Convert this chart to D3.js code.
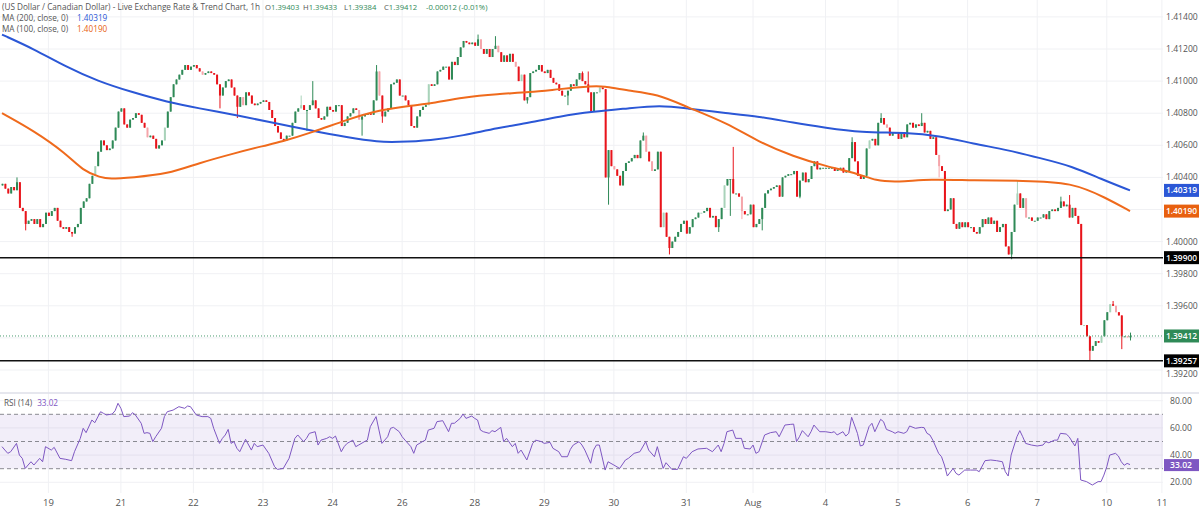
<!DOCTYPE html>
<html>
<head>
<meta charset="utf-8">
<script src="https://cdn.jsdelivr.net/npm/d3@7"></script>
<style>
  body { margin: 0; background: #fff; }
  svg text { font-family: "Open Sans", sans-serif; }
</style>
</head>
<body>
<div id="chart"></div>
<script>
// hourly closes, one per candle (open = previous close)
var firstOpen = 1.4035;
var closes = [
  1.4036,1.4033,1.4030,1.4034,1.4032,1.4037,1.4021,1.4019,1.4011,1.4013,
  1.4014,1.4011,1.4014,1.4009,1.4011,1.4018,1.4016,1.4019,1.4021,1.4013,
  1.4009,1.4008,1.4009,1.4006,1.4005,1.4009,1.4011,1.4021,1.4025,1.4027,
  1.4036,1.4041,1.4047,1.4056,1.4063,1.4060,1.4057,1.4058,1.4063,1.4071,
  1.4081,1.4083,1.4073,1.4071,1.4076,1.4077,1.4080,1.4079,1.4074,1.4071,
  1.4065,1.4066,1.4064,1.4058,1.4060,1.4063,1.4071,1.4081,1.4090,1.4098,
  1.4101,1.4104,1.4107,1.4110,1.4107,1.4109,1.4110,1.4108,1.4106,1.4104,
  1.4105,1.4106,1.4105,1.4104,1.4098,1.4091,1.4096,1.4100,1.4101,1.4096,
  1.4091,1.4084,1.4090,1.4085,1.4093,1.4091,1.4086,1.4085,1.4086,1.4087,
  1.4088,1.4087,1.4082,1.4077,1.4072,1.4068,1.4064,1.4063,1.4066,1.4066,
  1.4074,1.4081,1.4083,1.4085,1.4082,1.4082,1.4085,1.4088,1.4083,1.4077,
  1.4076,1.4078,1.4084,1.4082,1.4081,1.4085,1.4085,1.4072,1.4074,1.4078,
  1.4080,1.4083,1.4082,1.4076,1.4078,1.4079,1.4080,1.4079,1.4088,1.4106,
  1.4091,1.4078,1.4081,1.4083,1.4098,1.4099,1.4101,1.4091,1.4091,1.4088,
  1.4085,1.4072,1.4071,1.4078,1.4082,1.4084,1.4085,1.4098,1.4097,1.4098,
  1.4106,1.4107,1.4109,1.4109,1.4101,1.4112,1.4110,1.4115,1.4121,1.4125,
  1.4124,1.4123,1.4124,1.4122,1.4126,1.4120,1.4117,1.4120,1.4115,1.4120,
  1.4122,1.4118,1.4112,1.4116,1.4112,1.4117,1.4112,1.4109,1.4100,1.4104,
  1.4088,1.4090,1.4105,1.4106,1.4107,1.4110,1.4106,1.4105,1.4107,1.4102,
  1.4099,1.4098,1.4094,1.4091,1.4091,1.4094,1.4098,1.4097,1.4101,1.4105,
  1.4100,1.4098,1.4093,1.4081,1.4093,1.4093,1.4096,1.4095,1.4040,1.4057,
  1.4047,1.4045,1.4041,1.4035,1.4044,1.4049,1.4050,1.4052,1.4054,1.4052,
  1.4063,1.4066,1.4056,1.4050,1.4044,1.4045,1.4056,1.4009,1.4018,1.4003,
  1.3996,1.4000,1.4003,1.4006,1.4011,1.4013,1.4005,1.4009,1.4014,1.4015,
  1.4018,1.4018,1.4019,1.4021,1.4015,1.4016,1.4009,1.4014,1.4021,1.4035,
  1.4039,1.4039,1.4030,1.4030,1.4028,1.4019,1.4017,1.4017,1.4023,1.4009,
  1.4011,1.4014,1.4021,1.4030,1.4032,1.4033,1.4034,1.4035,1.4028,1.4040,
  1.4041,1.4042,1.4042,1.4044,1.4028,1.4038,1.4043,1.4037,1.4039,1.4047,
  1.4050,1.4045,1.4046,1.4046,1.4046,1.4046,1.4046,1.4044,1.4045,1.4046,
  1.4043,1.4044,1.4052,1.4062,1.4050,1.4041,1.4039,1.4041,1.4058,1.4063,
  1.4064,1.4060,1.4074,1.4077,1.4073,1.4071,1.4066,1.4068,1.4068,1.4064,
  1.4068,1.4065,1.4073,1.4074,1.4071,1.4073,1.4072,1.4074,1.4068,1.4069,
  1.4064,1.4065,1.4054,1.4047,1.4044,1.4019,1.4020,1.4027,1.4011,1.4008,
  1.4012,1.4009,1.4012,1.4009,1.4009,1.4006,1.4005,1.4009,1.4014,1.4011,
  1.4015,1.4011,1.4013,1.4006,1.4009,1.4011,1.3997,1.3992,1.4006,1.4023,
  1.4030,1.4021,1.4027,1.4015,1.4015,1.4013,1.4013,1.4015,1.4015,1.4017,
  1.4014,1.4019,1.4020,1.4019,1.4021,1.4025,1.4022,1.4023,1.4015,1.4021,
  1.4016,1.4011,1.3948,1.3948,1.3941,1.3932,1.3935,1.3938,1.3937,1.3941,
  1.3951,1.3956,1.3961,1.3960,1.3956,1.3954,1.3941,1.3941,1.39403,1.39412
];

// visible wicks [candle, price]
var highWicks = [[5,1.4040],[103,1.4091],[107,1.4100],[129,1.4110],[164,1.4129],[170,1.4128],
  [200,1.4106],[202,1.4106],[221,1.4068],[252,1.4059],[293,1.4065],[303,1.4080],[317,1.4080],
  [350,1.4038],[365,1.4028],[368,1.4029],[383,1.3963],[389,1.39433]];
var lowWicks = [[8,1.4007],[24,1.4003],[75,1.4083],[81,1.4077],[105,1.4069],[124,1.4066],
  [131,1.4074],[181,1.4086],[195,1.4085],[209,1.4023],[230,1.3992],[247,1.4006],[251,1.4016],
  [255,1.4014],[262,1.4007],[275,1.4027],[323,1.4040],[348,1.3989],[375,1.39257],[386,1.3933],
  [389,1.39384]];
// candles drawn in the lighter shade
var fadedCandles = [32,50,56,69,83,103,123,130,147,165,171,177,179,206,211,222,224,228,241,
  249,255,299,305,323,350,353,373,379,382,384,388];

// moving averages [candle, value]
var ma200 = [[0,1.4129],[11,1.4120],[22,1.4109],[33,1.4100],[45,1.4093],[57,1.4087],[68,1.4083],
  [80,1.4079],[91,1.4075],[107,1.4069],[119,1.4065],[130,1.4062],[136,1.4062],[148,1.4063],
  [159,1.4066],[171,1.4071],[182,1.4074],[192,1.4078],[204,1.4081],[216,1.4083],[227,1.4085],
  [236,1.4083],[250,1.4080],[261,1.4078],[273,1.4074],[284,1.4071],[296,1.4068],[312,1.4068],
  [323,1.4066],[335,1.4061],[347,1.4057],[358,1.4052],[369,1.4047],[379,1.4039],[389,1.40319]];
var ma100 = [[0,1.4080],[11,1.4069],[22,1.4055],[28,1.4044],[34,1.4040],[37,1.4039],[45,1.4040],
  [57,1.4042],[68,1.4049],[80,1.4055],[91,1.4060],[96,1.4062],[107,1.4068],[119,1.4076],
  [130,1.4082],[142,1.4085],[148,1.4086],[159,1.4090],[171,1.4092],[182,1.4093],[192,1.4095],
  [204,1.4097],[207,1.4097],[216,1.4094],[226,1.4092],[236,1.4084],[250,1.4074],[261,1.4062],
  [273,1.4053],[284,1.4047],[296,1.4042],[301,1.4038],[309,1.4037],[320,1.4039],[335,1.4038],
  [352,1.4038],[369,1.4037],[381,1.4027],[389,1.4019]];

// RSI(14) [candle, value]
var rsi = [[0,46.2],[1,43.7],[2,41.3],[3,42.5],[5,48.6],[6,40],[7,37.6],[8,30.2],[9,32.7],[10,35.1],
  [11,32.7],[13,37.6],[14,35.1],[15,46.2],[17,43.7],[18,45.7],[20,37.6],[22,36.9],[24,35.9],[25,42.5],
  [27,52.3],[28,59.7],[29,56.5],[31,65.8],[32,63.8],[34,71.9],[35,70.7],[36,69.5],[38,70.2],[39,72.6],
  [40,78.1],[41,74.4],[42,68.3],[44,68.7],[45,71.2],[46,69.5],[48,63.4],[49,56],[50,56.5],[51,56],
  [52,49.9],[53,53.5],[55,59.7],[56,68.3],[57,71.9],[59,73.1],[61,75.6],[63,74.4],[64,76.1],[65,75.6],
  [67,69.5],[69,68.3],[71,68.3],[72,67],[73,59.7],[75,48.6],[76,52.3],[77,54.8],[78,58.9],[79,48.6],
  [80,49.9],[81,45],[82,42.5],[84,51.6],[86,43.7],[87,48.6],[88,46.2],[90,47.4],[92,41.3],[94,31.5],
  [95,29.5],[97,30.2],[99,37.6],[101,52.3],[102,54.8],[104,49.9],[105,52.3],[106,56],[108,57.2],[109,47.4],
  [110,51],[112,52.3],[113,53.5],[114,52.3],[115,54],[117,42.5],[118,46.2],[119,48.6],[121,51],[122,46.2],
  [123,47.4],[125,49.9],[126,51],[127,60.9],[129,68.3],[130,58.4],[131,48.6],[133,53.5],[134,59.7],[135,60.4],
  [137,57.2],[138,53.5],[139,51],[141,46.2],[142,41.3],[143,47.4],[145,49.9],[146,51],[147,58.4],[149,59.7],
  [150,64.6],[152,65.3],[154,57.2],[155,63.4],[156,63.4],[158,67],[159,70.2],[160,67],[162,68.7],[163,67],
  [164,65.8],[165,58.4],[166,57.2],[168,56],[169,58],[170,57.2],[172,60.4],[173,49.9],[174,52.3],[176,46.2],
  [177,48.6],[178,41.3],[179,43.7],[181,36.4],[183,48.6],[184,51],[186,49.9],[187,48.6],[189,49.4],[190,45],
  [192,42.5],[193,38.8],[195,38.8],[196,44.2],[197,47.4],[199,49.9],[200,47.4],[201,43.7],[203,34],[204,43.7],
  [205,47.4],[206,47.4],[208,29],[209,35.1],[211,32.7],[213,30.2],[215,36.4],[216,37.6],[218,41.3],[220,42.5],
  [222,49.9],[223,43.7],[225,38.8],[226,46.2],[228,30.2],[229,34.4],[231,29.5],[233,29.5],[235,38.8],[236,37.6],
  [238,42.5],[240,44.5],[243,45],[245,42.5],[247,47.4],[248,42.5],[249,48.6],[250,57.2],[252,58.4],[253,52.3],
  [255,52.3],[256,45],[258,44.5],[259,47.4],[260,41.3],[261,42.5],[263,54.8],[265,56.5],[267,57.2],[268,53.5],
  [270,62.1],[272,62.6],[273,62.8],[274,49.9],[275,53.5],[276,58],[278,53.5],[279,57.2],[280,62.1],[282,57.2],
  [284,57.2],[286,56.5],[287,57.2],[288,54.8],[290,57.2],[291,54],[292,56],[293,67.8],[295,56],[296,46.7],
  [297,47.4],[299,60.9],[300,63.4],[301,57.2],[303,66.3],[304,64.6],[305,58.9],[307,57.2],[308,56],[309,57.2],
  [311,56],[312,57.2],[313,61.4],[315,59.7],[317,60.4],[318,60.2],[319,56],[320,54.8],[321,51],[323,41.3],
  [324,38.8],[325,32.7],[326,24.6],[328,30.2],[329,26.6],[330,25.3],[332,29],[334,29],[336,29],[337,27.8],
  [339,35.9],[341,36.4],[343,35.9],[345,35.1],[346,27.8],[347,24.6],[348,40],[350,53.5],[351,58],[352,53.5],
  [353,48.6],[355,47.4],[357,46.7],[359,47.4],[360,49.9],[361,49.1],[363,51],[364,51],[365,56],[367,55.5],
  [368,53.5],[370,46.7],[371,52.3],[372,21.7],[374,20.5],[376,18],[378,20.5],[379,20.5],[380,25.3],[381,31.5],
  [382,40],[384,41.3],[385,39.3],[386,35.1],[387,32.5],[388,33.9],[389,33.02]];

var dayLabels = ['19','21','22','23','24','26','28','29','30','31','Aug','4','5','6','7','10','11'];
var dayIndex = [16,41,66,90,114,138,163,187,211,236,259,284,309,333,357,381,400];
var priceTicks = [1.392,1.394,1.396,1.398,1.400,1.402,1.404,1.406,1.408,1.410,1.412,1.414];
var rsiTicks = [20,40,60,80];
var rsiLevels = [70,50,30];
var supportLevels = [1.3990, 1.39257];
var lastPrice = 1.39412;
var lastRsi = 33.02;
var ohlcKeys = ['O','H','L','C'];
var ohlc = ['1.39403','1.39433','1.39384','1.39412'];
var change = '-0.00012 (-0.01%)';

var width = 1199, height = 510, plotRight = 1163, axisX = 1166;
var green = '#2f8a57', red = '#e8141b';
var greenLight = '#a9d3ba', redLight = '#f5a5aa';

var svg = d3.select('#chart').append('svg')
    .attr('width', width).attr('height', height);

var x = d3.scaleLinear().domain([0, closes.length - 1]).range([2, 1130]);
var y = d3.scaleLinear().domain([1.392, 1.414]).range([370, 16.9]);
var yr = d3.scaleLinear().domain([20, 80]).range([482.3, 400.7]);

// grid
svg.append('g').selectAll('line').data(priceTicks).enter().append('line')
  .attr('x1', 0).attr('x2', plotRight)
  .attr('y1', function(d){ return y(d); }).attr('y2', function(d){ return y(d); })
  .attr('stroke', '#f0f1f4');
svg.append('g').selectAll('line').data(rsiTicks).enter().append('line')
  .attr('x1', 0).attr('x2', plotRight)
  .attr('y1', function(d){ return yr(d); }).attr('y2', function(d){ return yr(d); })
  .attr('stroke', '#f0f1f4');
svg.append('g').selectAll('line').data(dayIndex).enter().append('line')
  .attr('x1', function(d){ return x(d); }).attr('x2', function(d){ return x(d); })
  .attr('y1', 0).attr('y2', 493)
  .attr('stroke', '#f0f1f4');

// panel separator
svg.append('line').attr('x1', 0).attr('x2', width).attr('y1', 393).attr('y2', 393)
  .attr('stroke', '#dedfe8').attr('stroke-width', 1.5);

// RSI band and levels
svg.append('rect').attr('x', 0).attr('width', plotRight)
  .attr('y', yr(70)).attr('height', yr(30) - yr(70))
  .attr('fill', 'rgba(126,87,194,0.1)');
svg.append('g').selectAll('line').data(rsiLevels).enter().append('line')
  .attr('x1', 0).attr('x2', plotRight)
  .attr('y1', function(d){ return yr(d); }).attr('y2', function(d){ return yr(d); })
  .attr('stroke', '#8a8a92').attr('stroke-dasharray', '4,3');

// candles
var hiMap = new Map(highWicks), loMap = new Map(lowWicks);
var fadedSet = new Set(fadedCandles);
var candles = closes.map(function(c, i){
  var o = i ? closes[i-1] : firstOpen;
  var h = Math.max(o, c, hiMap.has(i) ? hiMap.get(i) : 0);
  var l = Math.min(o, c, loMap.has(i) ? loMap.get(i) : 9);
  return {i: i, o: o, c: c, h: h, l: l, faded: fadedSet.has(i)};
});
var candleColor = function(d){
  if (d.c >= d.o) return d.faded ? greenLight : green;
  return d.faded ? redLight : red;
};
var cg = svg.append('g').selectAll('g').data(candles).enter().append('g');
cg.append('line')
  .attr('x1', function(d){ return x(d.i) + 0.5; }).attr('x2', function(d){ return x(d.i) + 0.5; })
  .attr('y1', function(d){ return y(d.h); }).attr('y2', function(d){ return y(d.l); })
  .attr('stroke', candleColor);
cg.append('rect')
  .attr('x', function(d){ return x(d.i) - 0.5; })
  .attr('width', 2)
  .attr('y', function(d){ return y(Math.max(d.o, d.c)); })
  .attr('height', function(d){ return Math.max(1, Math.abs(y(d.o) - y(d.c))); })
  .attr('fill', candleColor);

// moving averages
var maLine = d3.line()
  .x(function(d){ return x(d[0]); }).y(function(d){ return y(d[1]); })
  .curve(d3.curveBasis);
svg.append('path').datum(ma200).attr('d', maLine)
  .attr('fill', 'none').attr('stroke', '#2b57d6').attr('stroke-width', 2);
svg.append('path').datum(ma100).attr('d', maLine)
  .attr('fill', 'none').attr('stroke', '#ef6a1c').attr('stroke-width', 2);

// levels
svg.append('g').selectAll('line').data(supportLevels).enter().append('line')
  .attr('x1', 0).attr('x2', plotRight)
  .attr('y1', function(d){ return y(d); }).attr('y2', function(d){ return y(d); })
  .attr('stroke', '#111').attr('stroke-width', 1.5);
svg.append('line').attr('x1', 0).attr('x2', plotRight)
  .attr('y1', y(lastPrice)).attr('y2', y(lastPrice))
  .attr('stroke', '#4a9b70').attr('stroke-dasharray', '1,2');

// RSI line
svg.append('path').datum(rsi)
  .attr('d', d3.line().x(function(d){ return x(d[0]); }).y(function(d){ return yr(d[1]); }))
  .attr('fill', 'none').attr('stroke', '#7e57c2').attr('stroke-width', 1);

// price axis
var boxes = [
  {v: 1.40319, t: '1.40319', fill: '#2b57d6'},
  {v: 1.40190, t: '1.40190', fill: '#e8600f'},
  {v: 1.3990, t: '1.39900', fill: '#000'},
  {v: lastPrice, t: '1.39412', fill: '#2f8a57'},
  {v: 1.39257, t: '1.39257', fill: '#000'}
];
// labels hidden behind a box are dropped, those grazing one are nudged clear
var tickLabels = [];
priceTicks.forEach(function(t){
  var ty = y(t), hide = false;
  boxes.forEach(function(b){
    var gap = ty - y(b.v);
    if (Math.abs(gap) < 9) hide = true;
    else if (Math.abs(gap) < 13) ty = y(b.v) + (gap > 0 ? 13 : -13);
  });
  if (!hide) tickLabels.push({v: t, y: ty});
});
svg.append('g').selectAll('text').data(tickLabels).enter().append('text')
  .attr('x', axisX).attr('y', function(d){ return d.y; }).attr('dy', '0.35em')
  .attr('font-size', 8.6).attr('fill', '#555')
  .text(function(d){ return d.v.toFixed(5); });

var bg = svg.append('g').selectAll('g').data(boxes).enter().append('g');
bg.append('rect').attr('x', 1164).attr('width', 40).attr('height', 13)
  .attr('y', function(d){ return y(d.v) - 6.5; }).attr('fill', function(d){ return d.fill; });
bg.append('text').attr('x', axisX).attr('y', function(d){ return y(d.v); }).attr('dy', '0.35em')
  .attr('font-size', 8.4).attr('fill', '#fff').attr('font-weight', 600)
  .text(function(d){ return d.t; });

// RSI axis
svg.append('g').selectAll('text').data(rsiTicks).enter().append('text')
  .attr('x', 1170).attr('y', function(d){ return yr(d); }).attr('dy', '0.35em')
  .attr('font-size', 8.6).attr('fill', '#555')
  .text(function(d){ return d.toFixed(2); });
svg.append('rect').attr('x', 1164).attr('width', 40).attr('height', 12)
  .attr('y', yr(lastRsi) - 5.5).attr('fill', '#7e57c2');
svg.append('text').attr('x', 1170).attr('y', yr(lastRsi) + 0.5).attr('dy', '0.35em')
  .attr('font-size', 8.6).attr('fill', '#fff').attr('font-weight', 600)
  .text(lastRsi.toFixed(2));

// time axis
svg.append('g').selectAll('text').data(dayLabels).enter().append('text')
  .attr('x', function(d, i){ return x(dayIndex[i]); }).attr('y', 506)
  .attr('text-anchor', 'middle').attr('font-size', 9.5).attr('fill', '#555')
  .text(function(d){ return d; });

// legend
svg.append('text').attr('x', 2).attr('y', 10).attr('font-size', 8.2).attr('fill', '#555')
  .text('(US Dollar / Canadian Dollar) - Live Exchange Rate & Trend Chart, 1h');
var ohlcX = [265, 303, 344, 384];
ohlcKeys.forEach(function(k, i){
  var t = svg.append('text').attr('x', ohlcX[i]).attr('y', 10).attr('font-size', 7.7).attr('fill', '#555');
  t.append('tspan').text(k);
  t.append('tspan').attr('fill', '#2f8a57').text(ohlc[i]);
});
svg.append('text').attr('x', 426).attr('y', 10).attr('font-size', 7.7).attr('fill', '#2f8a57')
  .text(change);

var ml = [['MA (200, close, 0)', '1.40319', '#2b57d6'], ['MA (100, close, 0)', '1.40190', '#e8600f']];
ml.forEach(function(m, i){
  var t = svg.append('text').attr('x', 2).attr('y', 21 + i * 11).attr('font-size', 8.2).attr('fill', '#555');
  t.append('tspan').text(m[0]);
  t.append('tspan').attr('x', 77).attr('fill', m[2]).text(m[1]);
});

var rl = svg.append('text').attr('x', 4).attr('y', 406).attr('font-size', 8.2).attr('fill', '#555');
rl.append('tspan').text('RSI (14)');
rl.append('tspan').attr('dx', 5).attr('fill', '#7e57c2').text(lastRsi.toFixed(2));
</script>
</body>
</html>
